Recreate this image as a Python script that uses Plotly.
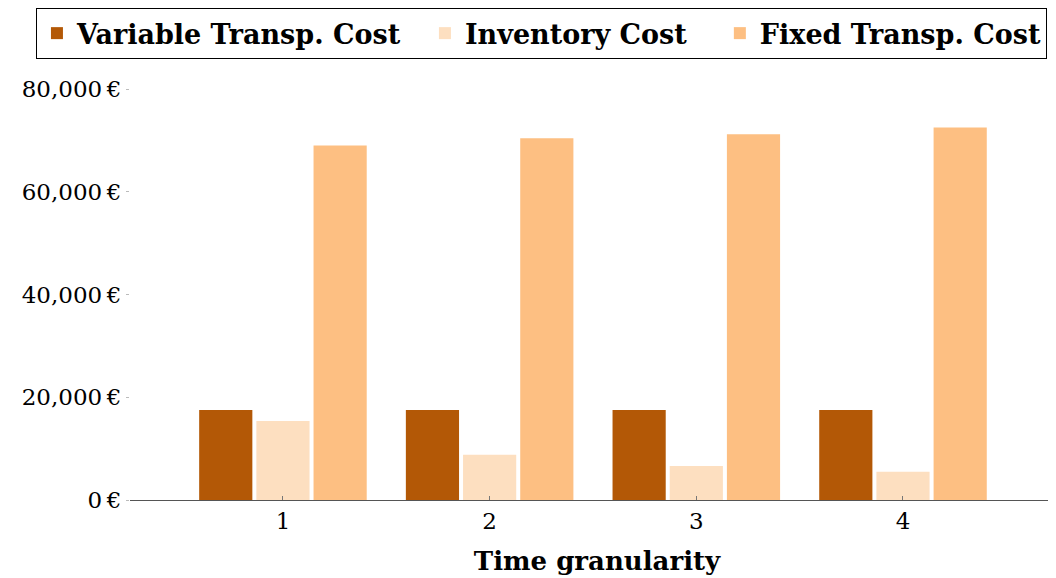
import plotly.graph_objects as go

categories = [1, 2, 3, 4]
variable_transp = [17500, 17500, 17500, 17500]
inventory = [15400, 8800, 6600, 5500]
fixed_transp = [69000, 70400, 71200, 72500]
series_names = ["Variable Transp. Cost", "Inventory Cost", "Fixed Transp. Cost"]
legend_pad = ["&nbsp;&nbsp;", "&nbsp;&nbsp;&nbsp;", ""]
colors = ["#b35806", "#fddfc0", "#fdbf82"]
ytick_vals = [0, 20000, 40000, 60000, 80000]
ytick_text = ["0\u2009€", "20,000\u2009€", "40,000\u2009€", "60,000\u2009€", "80,000\u2009€"]

fig = go.Figure()
for name, pad, vals, c in zip(series_names, legend_pad,
                              [variable_transp, inventory, fixed_transp], colors):
    fig.add_trace(go.Bar(x=categories, y=vals, name=name + pad, marker_color=c,
                         marker_line_width=0))

font_family = "DejaVu Serif, Liberation Serif, serif"
# page body has an 8px margin; margins compensate so the plot area lands at the reference position
fig.update_layout(
    width=1056, height=578,
    margin=dict(l=122, r=0, t=52, b=86, autoexpand=False),
    plot_bgcolor="white", paper_bgcolor="white",
    barmode="group", bargap=0.17, bargroupgap=0.07,
    font=dict(family=font_family, size=23, color="black"),
    legend=dict(orientation="h", x=-0.1007, y=1.118, xanchor="left", yanchor="top",
                bordercolor="black", borderwidth=1,
                font=dict(family=font_family, size=27, color="black", weight="bold"),
                itemwidth=30, tracegroupgap=0),
    showlegend=True,
)
fig.update_xaxes(range=[0.26, 4.779], tickvals=categories, ticktext=[str(c) for c in categories],
                 showline=True, linecolor="#555555", linewidth=1.2, showgrid=False,
                 ticks="inside", ticklen=4, tickcolor="#777777", zeroline=False,
                 automargin=False,
                 title=dict(text="<b>Time granularity</b>", font=dict(size=26), standoff=19),
                 tickfont=dict(size=23))
fig.update_yaxes(range=[0, 85645], tickvals=ytick_vals, ticktext=ytick_text,
                 showline=False, showgrid=False, zeroline=False, automargin=False,
                 ticks="outside", ticklen=3, tickcolor="#bbbbbb", tickfont=dict(size=23))
fig.write_html("out.html")
